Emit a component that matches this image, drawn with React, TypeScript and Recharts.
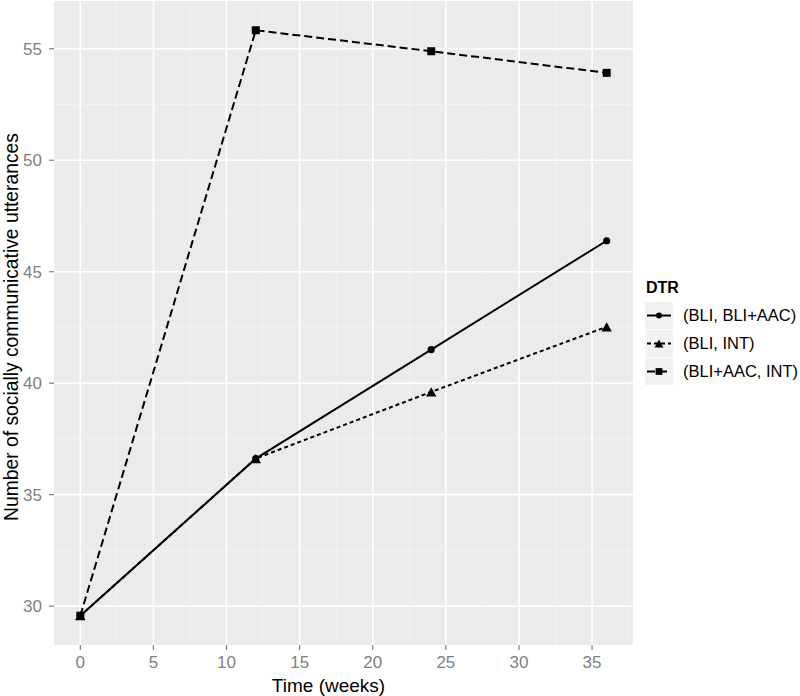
import React from "react";
import {
  LineChart,
  Line,
  XAxis,
  YAxis,
  CartesianGrid,
  ReferenceLine,
} from "recharts";

const weeks = [0, 12, 24, 36];
const bliBliAac = [29.57, 36.62, 41.51, 46.39];
const bliInt = [29.57, 36.62, 39.61, 42.53];
const bliAacInt = [29.57, 55.83, 54.89, 53.92];

const xTicks = [0, 5, 10, 15, 20, 25, 30, 35];
const yTicks = [30, 35, 40, 45, 50, 55];
const xMinor = [2.5, 7.5, 12.5, 17.5, 22.5, 27.5, 32.5, 37.5];
const yMinor = [32.5, 37.5, 42.5, 47.5, 52.5];

const seriesNames = ["(BLI, BLI+AAC)", "(BLI, INT)", "(BLI+AAC, INT)"];

const rows = weeks.map((w, i) => ({
  week: w,
  a: bliBliAac[i],
  b: bliInt[i],
  c: bliAacInt[i],
}));

const allY = [...bliBliAac, ...bliInt, ...bliAacInt];
const yLo = Math.min(...allY);
const yHi = Math.max(...allY);
const yPad = (yHi - yLo) * 0.05;
const xPad = (weeks[weeks.length - 1] - weeks[0]) * 0.05;

const FONT = "'Liberation Sans', Arial, Helvetica, sans-serif";
const TICK_GREY = "#7f7f7f";

type Shape = "circle" | "triangle" | "square";

function Marker({ cx, cy, shape, s = 1 }: { cx: number; cy: number; shape: Shape; s?: number }) {
  if (shape === "circle") return <circle cx={cx} cy={cy} r={3.6 * s} fill="#000" />;
  if (shape === "triangle") {
    const w = 5.2 * s;
    const h = 4.6 * s;
    return (
      <polygon
        points={`${cx},${cy - h} ${cx - w},${cy + h} ${cx + w},${cy + h}`}
        fill="#000"
      />
    );
  }
  const q = 4 * s;
  return <rect x={cx - q} y={cy - q} width={q * 2} height={q * 2} fill="#000" />;
}

const makeDot = (shape: Shape) => (props: any) => (
  <Marker key={`${shape}-${props.index}`} cx={props.cx} cy={props.cy} shape={shape} />
);

const keys: { shape: Shape; dash?: string }[] = [
  { shape: "circle" },
  { shape: "triangle", dash: "4 3" },
  { shape: "square", dash: "8 4" },
];

function DtrLegend() {
  return (
    <div style={{ position: "absolute", left: 645, top: 279, fontFamily: FONT }}>
      <div style={{ fontWeight: "bold", fontSize: 16, marginBottom: 4, marginLeft: 1 }}>DTR</div>
      {keys.map((k, i) => (
        <div key={i} style={{ display: "flex", alignItems: "center", height: 28 }}>
          <svg width={28} height={27}>
            <rect x={0} y={0} width={28} height={27} fill="#f2f2f2" />
            <line x1={2} x2={26} y1={13.5} y2={13.5} stroke="#000" strokeWidth={2} strokeDasharray={k.dash} />
            <Marker cx={14} cy={13.5} shape={k.shape} s={0.85} />
          </svg>
          <span style={{ fontSize: 16.5, marginLeft: 10, color: "#000", whiteSpace: "nowrap" }}>
            {seriesNames[i]}
          </span>
        </div>
      ))}
    </div>
  );
}

export default function App() {
  return (
    <div style={{ position: "absolute", left: 0, top: 0, width: 800, height: 696, background: "#fff" }}>
      <LineChart
        width={800}
        height={696}
        data={rows}
        margin={{ top: 1, right: 167, left: 0, bottom: 0 }}
        style={{ fontFamily: FONT }}
      >
        <CartesianGrid
          fill="#ebebeb"
          stroke="#ffffff"
          strokeWidth={1.6}
          horizontalValues={yTicks}
          verticalValues={xTicks}
        />
        {xMinor.map((v) => (
          <ReferenceLine key={`vx${v}`} x={v} stroke="#f4f4f4" strokeWidth={0.8} />
        ))}
        {yMinor.map((v) => (
          <ReferenceLine key={`hy${v}`} y={v} stroke="#f4f4f4" strokeWidth={0.8} />
        ))}
        <XAxis
          dataKey="week"
          type="number"
          domain={[weeks[0] - xPad, weeks[weeks.length - 1] + xPad]}
          ticks={xTicks}
          allowDataOverflow
          height={51}
          axisLine={false}
          tickSize={5}
          tickMargin={6}
          tickLine={{ stroke: TICK_GREY, strokeWidth: 1.2 }}
          tick={{ fill: TICK_GREY, fontSize: 17 }}
          label={{
            content: ({ viewBox }: any) => (
              <text
                x={viewBox.x + viewBox.width / 2 - 15}
                y={viewBox.y + viewBox.height - 4}
                textAnchor="middle"
                fill="#000"
                fontSize={19}
                fontFamily={FONT}
              >
                Time (weeks)
              </text>
            ),
          }}
        />
        <YAxis
          type="number"
          domain={[yLo - yPad, yHi + yPad]}
          ticks={yTicks}
          allowDataOverflow
          width={54}
          axisLine={false}
          tickSize={5}
          tickMargin={7}
          tickLine={{ stroke: TICK_GREY, strokeWidth: 1.2 }}
          tick={{ fill: TICK_GREY, fontSize: 17 }}
          label={{
            content: ({ viewBox }: any) => {
              const cy = viewBox.y + viewBox.height / 2 + 4;
              return (
                <text
                  x={11}
                  y={cy}
                  transform={`rotate(-90 11 ${cy})`}
                  textAnchor="middle"
                  dominantBaseline="central"
                  fill="#000"
                  fontSize={19.3}
                  fontFamily={FONT}
                >
                  Number of socially communicative utterances
                </text>
              );
            },
          }}
        />
        <Line
          dataKey="a"
          name={seriesNames[0]}
          stroke="#000"
          strokeWidth={2}
          dot={makeDot("circle")}
          activeDot={false}
          isAnimationActive={false}
        />
        <Line
          dataKey="b"
          name={seriesNames[1]}
          stroke="#000"
          strokeWidth={2}
          strokeDasharray="4 3"
          dot={makeDot("triangle")}
          activeDot={false}
          isAnimationActive={false}
        />
        <Line
          dataKey="c"
          name={seriesNames[2]}
          stroke="#000"
          strokeWidth={2}
          strokeDasharray="8 4"
          dot={makeDot("square")}
          activeDot={false}
          isAnimationActive={false}
        />
      </LineChart>
      <DtrLegend />
    </div>
  );
}
